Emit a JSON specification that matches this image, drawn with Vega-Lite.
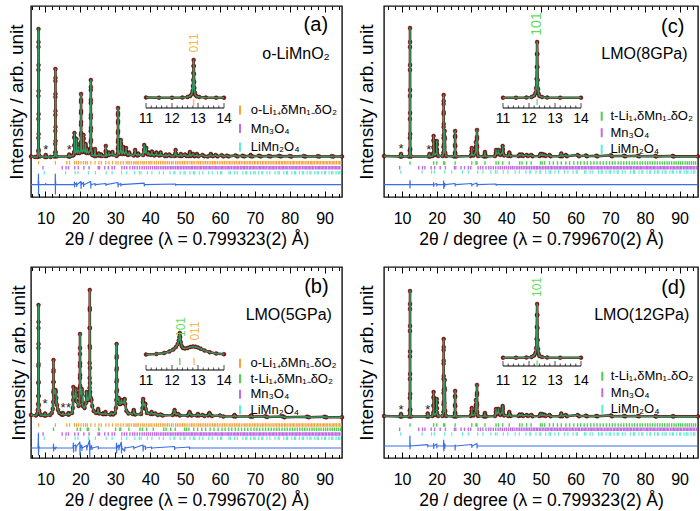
{
"$schema": "https://vega.github.io/schema/vega-lite/v6.json",
"background": "white",
"padding": {"left": 6, "top": 4, "right": 2, "bottom": 1},
"config": {"font": "Liberation Sans", "view": {"stroke": "#111", "strokeWidth": 1.4}},
"datasets": {
"pa": [{"x":5.85,"y":40.5},{"x":7.0,"y":40},{"x":7.7,"y":40},{"x":7.94,"y":46},{"x":7.955,"y":59},{"x":7.968,"y":78},{"x":7.978,"y":101},{"x":7.986,"y":127},{"x":7.993,"y":150},{"x":8.0,"y":168},{"x":8.007,"y":155},{"x":8.014,"y":132},{"x":8.022,"y":106},{"x":8.032,"y":83},{"x":8.045,"y":63},{"x":8.06,"y":47},{"x":8.35,"y":40.5},{"x":9.9,"y":40},{"x":10.1,"y":42},{"x":10.3,"y":40},{"x":11.5,"y":40},{"x":12.55,"y":40.5},{"x":12.79,"y":44.5},{"x":12.805,"y":53},{"x":12.818,"y":66},{"x":12.828,"y":82},{"x":12.836,"y":100},{"x":12.843,"y":116},{"x":12.85,"y":128},{"x":12.857,"y":119},{"x":12.864,"y":103},{"x":12.872,"y":86},{"x":12.882,"y":70},{"x":12.895,"y":56},{"x":12.91,"y":45},{"x":13.15,"y":40.5},{"x":16.6,"y":40.5},{"x":16.8,"y":42.5},{"x":17.0,"y":40.5},{"x":17.8,"y":41.5},{"x":18.05,"y":42},{"x":18.26,"y":45},{"x":18.28,"y":52},{"x":18.292,"y":60},{"x":18.3,"y":64},{"x":18.308,"y":59},{"x":18.32,"y":51},{"x":18.34,"y":45},{"x":18.6,"y":44},{"x":18.86,"y":48},{"x":18.88,"y":54},{"x":18.9,"y":58},{"x":18.92,"y":53},{"x":18.94,"y":47},{"x":19.2,"y":44},{"x":19.47,"y":47},{"x":19.5,"y":50},{"x":19.53,"y":46},{"x":19.8,"y":44},{"x":20.14,"y":47},{"x":20.155,"y":53},{"x":20.168,"y":62},{"x":20.178,"y":72},{"x":20.186,"y":84},{"x":20.193,"y":95},{"x":20.2,"y":103},{"x":20.207,"y":97},{"x":20.214,"y":86},{"x":20.222,"y":75},{"x":20.232,"y":64},{"x":20.245,"y":55},{"x":20.26,"y":47.5},{"x":20.5,"y":45},{"x":20.86,"y":48},{"x":20.88,"y":54},{"x":20.892,"y":59},{"x":20.9,"y":62},{"x":20.908,"y":58},{"x":20.92,"y":52},{"x":20.94,"y":47},{"x":21.2,"y":45},{"x":21.47,"y":48},{"x":21.49,"y":51},{"x":21.5,"y":53},{"x":21.51,"y":50},{"x":21.53,"y":47},{"x":21.75,"y":44},{"x":21.98,"y":46.5},{"x":22.0,"y":48},{"x":22.02,"y":45.5},{"x":22.4,"y":44},{"x":22.94,"y":47.7},{"x":22.955,"y":55},{"x":22.968,"y":66},{"x":22.978,"y":79},{"x":22.986,"y":94},{"x":22.993,"y":107},{"x":23.0,"y":117},{"x":23.007,"y":110},{"x":23.014,"y":97},{"x":23.022,"y":82},{"x":23.032,"y":69},{"x":23.045,"y":57},{"x":23.06,"y":48.4},{"x":23.4,"y":42},{"x":24.0,"y":41},{"x":24.17,"y":45},{"x":24.2,"y":48},{"x":24.23,"y":44.5},{"x":24.45,"y":41},{"x":25.28,"y":42},{"x":25.3,"y":43.5},{"x":25.32,"y":41.5},{"x":25.98,"y":41.5},{"x":26.0,"y":42.5},{"x":26.02,"y":41},{"x":27.1,"y":41},{"x":27.27,"y":46},{"x":27.3,"y":51},{"x":27.33,"y":45},{"x":27.5,"y":41},{"x":28.18,"y":43},{"x":28.2,"y":44.5},{"x":28.22,"y":42},{"x":29.17,"y":43},{"x":29.2,"y":45},{"x":29.23,"y":42.5},{"x":30.4,"y":41},{"x":30.74,"y":43.4},{"x":30.755,"y":48},{"x":30.768,"y":55},{"x":30.778,"y":64},{"x":30.786,"y":74},{"x":30.793,"y":82},{"x":30.8,"y":89},{"x":30.807,"y":84},{"x":30.814,"y":76},{"x":30.822,"y":66},{"x":30.832,"y":57},{"x":30.845,"y":50},{"x":30.86,"y":44},{"x":31.2,"y":43},{"x":31.57,"y":48},{"x":31.59,"y":54},{"x":31.6,"y":57},{"x":31.61,"y":53},{"x":31.63,"y":47},{"x":31.95,"y":43},{"x":32.27,"y":46},{"x":32.3,"y":50},{"x":32.33,"y":45.5},{"x":32.7,"y":43},{"x":33.07,"y":45.5},{"x":33.1,"y":49},{"x":33.13,"y":45},{"x":33.6,"y":42},{"x":33.98,"y":43},{"x":34.0,"y":44.5},{"x":34.02,"y":42.5},{"x":35.3,"y":41.5},{"x":35.67,"y":44},{"x":35.7,"y":47},{"x":35.73,"y":43.5},{"x":36.3,"y":41.5},{"x":36.58,"y":42.5},{"x":36.6,"y":43.5},{"x":36.62,"y":42},{"x":38.0,"y":42},{"x":38.27,"y":47},{"x":38.3,"y":52},{"x":38.33,"y":47},{"x":38.6,"y":44},{"x":38.87,"y":46},{"x":38.9,"y":49},{"x":38.93,"y":45},{"x":39.3,"y":42.5},{"x":39.58,"y":43.5},{"x":39.6,"y":44.5},{"x":39.62,"y":43},{"x":40.2,"y":42},{"x":40.48,"y":44},{"x":40.5,"y":45.5},{"x":40.52,"y":43},{"x":41.2,"y":41.5},{"x":41.78,"y":43},{"x":41.8,"y":44.5},{"x":41.82,"y":42.5},{"x":42.6,"y":41.5},{"x":42.98,"y":43},{"x":43.0,"y":44.5},{"x":43.02,"y":42},{"x":44.2,"y":41},{"x":44.5,"y":42.5},{"x":44.8,"y":41},{"x":45.5,"y":42.5},{"x":46.0,"y":41},{"x":46.9,"y":41},{"x":47.27,"y":44},{"x":47.3,"y":47},{"x":47.33,"y":43.5},{"x":47.6,"y":41.5},{"x":48.5,"y":41},{"x":48.8,"y":43},{"x":49.1,"y":41},{"x":50.0,"y":42.5},{"x":50.4,"y":41},{"x":51.1,"y":41},{"x":51.38,"y":43.5},{"x":51.4,"y":45},{"x":51.42,"y":43},{"x":51.7,"y":41},{"x":52.3,"y":43},{"x":52.7,"y":40.8},{"x":53.38,"y":42},{"x":53.4,"y":43},{"x":53.42,"y":41.5},{"x":53.9,"y":40.8},{"x":55.0,"y":42},{"x":55.5,"y":40.8},{"x":56.5,"y":40.5},{"x":57.38,"y":42},{"x":57.4,"y":43},{"x":57.42,"y":41.5},{"x":58.0,"y":40.8},{"x":58.8,"y":42},{"x":59.3,"y":40.6},{"x":60.5,"y":41.8},{"x":61.0,"y":40.6},{"x":62.0,"y":41.3},{"x":62.5,"y":40.6},{"x":64.5,"y":41.6},{"x":65.0,"y":40.6},{"x":66.5,"y":41.2},{"x":67.0,"y":40.6},{"x":68.78,"y":41.2},{"x":68.8,"y":42},{"x":68.82,"y":41},{"x":69.3,"y":40.6},{"x":71.2,"y":41.3},{"x":71.7,"y":40.6},{"x":74.0,"y":41},{"x":74.5,"y":40.6},{"x":77.0,"y":41.1},{"x":77.5,"y":40.6},{"x":80.0,"y":40.9},{"x":80.5,"y":40.5},{"x":84.0,"y":40.9},{"x":84.5,"y":40.5},{"x":88.0,"y":40.8},{"x":88.5,"y":40.5},{"x":92.0,"y":40.8},{"x":92.5,"y":40.5},{"x":95.0,"y":40.5}],
"pc": [{"x":4.8,"y":41},{"x":9.5,"y":40.5},{"x":9.7,"y":43},{"x":9.9,"y":40.5},{"x":12.0,"y":40.5},{"x":12.24,"y":46.4},{"x":12.255,"y":59},{"x":12.268,"y":78},{"x":12.278,"y":101},{"x":12.286,"y":127},{"x":12.293,"y":150},{"x":12.3,"y":169},{"x":12.307,"y":155},{"x":12.314,"y":132},{"x":12.322,"y":107},{"x":12.332,"y":84},{"x":12.345,"y":63},{"x":12.36,"y":48},{"x":12.6,"y":40.5},{"x":17.7,"y":40.5},{"x":17.9,"y":43},{"x":18.1,"y":40.5},{"x":18.8,"y":41},{"x":19.06,"y":44},{"x":19.08,"y":50},{"x":19.092,"y":57},{"x":19.1,"y":61},{"x":19.108,"y":56},{"x":19.12,"y":49},{"x":19.14,"y":44},{"x":19.5,"y":42},{"x":19.96,"y":44},{"x":19.98,"y":48},{"x":19.992,"y":53},{"x":20.0,"y":56},{"x":20.008,"y":52},{"x":20.02,"y":47},{"x":20.04,"y":44},{"x":20.4,"y":41},{"x":21.7,"y":41},{"x":21.94,"y":44},{"x":21.955,"y":50},{"x":21.968,"y":59},{"x":21.978,"y":70},{"x":21.986,"y":83},{"x":21.993,"y":93},{"x":22.0,"y":102},{"x":22.007,"y":96},{"x":22.014,"y":85},{"x":22.022,"y":73},{"x":22.032,"y":62},{"x":22.045,"y":52},{"x":22.06,"y":45},{"x":22.15,"y":50},{"x":22.27,"y":60},{"x":22.3,"y":66},{"x":22.33,"y":58},{"x":22.45,"y":44},{"x":22.7,"y":41},{"x":25.0,"y":40.5},{"x":25.26,"y":44.3},{"x":25.28,"y":52},{"x":25.292,"y":61},{"x":25.3,"y":66},{"x":25.308,"y":60},{"x":25.32,"y":50.7},{"x":25.34,"y":43.6},{"x":25.6,"y":40.5},{"x":29.8,"y":41},{"x":30.06,"y":43},{"x":30.08,"y":46},{"x":30.1,"y":49},{"x":30.12,"y":45.5},{"x":30.14,"y":42.5},{"x":30.6,"y":41.5},{"x":31.25,"y":45},{"x":31.28,"y":50},{"x":31.3,"y":55},{"x":31.32,"y":49},{"x":31.45,"y":47},{"x":31.56,"y":52},{"x":31.58,"y":58},{"x":31.6,"y":67},{"x":31.61,"y":60},{"x":31.63,"y":50},{"x":31.66,"y":44},{"x":31.9,"y":41},{"x":33.6,"y":40.5},{"x":33.87,"y":43},{"x":33.9,"y":45},{"x":33.93,"y":42.5},{"x":34.2,"y":40.5},{"x":36.8,"y":41},{"x":37.07,"y":44},{"x":37.1,"y":47},{"x":37.13,"y":44},{"x":37.45,"y":43},{"x":37.77,"y":45},{"x":37.8,"y":47},{"x":37.83,"y":44},{"x":38.3,"y":42},{"x":38.96,"y":45},{"x":38.98,"y":48},{"x":39.0,"y":51},{"x":39.02,"y":47.5},{"x":39.05,"y":44},{"x":39.4,"y":41.5},{"x":40.6,"y":41},{"x":40.88,"y":43},{"x":40.9,"y":44.5},{"x":40.92,"y":42.5},{"x":41.3,"y":41},{"x":43.6,"y":41},{"x":43.9,"y":42.5},{"x":44.2,"y":41.5},{"x":44.6,"y":42.5},{"x":44.9,"y":41},{"x":45.9,"y":42},{"x":46.3,"y":41},{"x":47.2,"y":42},{"x":47.6,"y":40.8},{"x":49.6,"y":41},{"x":49.9,"y":43},{"x":50.15,"y":41.8},{"x":50.4,"y":43},{"x":50.7,"y":41.5},{"x":51.1,"y":42.3},{"x":51.4,"y":41},{"x":52.5,"y":42},{"x":52.8,"y":40.8},{"x":55.6,"y":40.8},{"x":55.9,"y":43.5},{"x":56.2,"y":40.8},{"x":57.2,"y":42},{"x":57.5,"y":40.8},{"x":60.6,"y":42},{"x":61.0,"y":40.8},{"x":63.0,"y":41.5},{"x":63.3,"y":40.7},{"x":66.0,"y":41.2},{"x":66.3,"y":40.7},{"x":70.2,"y":41.8},{"x":70.5,"y":40.7},{"x":74.0,"y":41.2},{"x":74.3,"y":40.7},{"x":78.0,"y":41.2},{"x":78.3,"y":40.7},{"x":83.0,"y":41},{"x":83.3,"y":40.6},{"x":88.0,"y":41},{"x":88.3,"y":40.6},{"x":95.3,"y":40.6}],
"pd": [{"x":4.8,"y":42},{"x":9.5,"y":41.5},{"x":9.7,"y":44},{"x":9.9,"y":41.5},{"x":12.0,"y":41.5},{"x":12.24,"y":47.3},{"x":12.255,"y":60},{"x":12.268,"y":79},{"x":12.278,"y":101.5},{"x":12.286,"y":127},{"x":12.293,"y":149},{"x":12.3,"y":167},{"x":12.307,"y":154},{"x":12.314,"y":132},{"x":12.322,"y":106.5},{"x":12.332,"y":84},{"x":12.345,"y":64},{"x":12.36,"y":48.6},{"x":12.6,"y":41.5},{"x":17.2,"y":41.5},{"x":17.4,"y":44.5},{"x":17.6,"y":41.5},{"x":18.8,"y":42},{"x":19.06,"y":45.6},{"x":19.08,"y":52.8},{"x":19.092,"y":61},{"x":19.1,"y":66},{"x":19.108,"y":60},{"x":19.12,"y":51.6},{"x":19.14,"y":45},{"x":19.5,"y":43},{"x":19.96,"y":45.4},{"x":19.98,"y":50.2},{"x":19.992,"y":55.8},{"x":20.0,"y":59},{"x":20.008,"y":55},{"x":20.02,"y":49.4},{"x":20.04,"y":45},{"x":20.4,"y":42},{"x":21.7,"y":42},{"x":21.94,"y":46},{"x":21.955,"y":53.6},{"x":21.968,"y":65},{"x":21.978,"y":79},{"x":21.986,"y":94.4},{"x":21.993,"y":108},{"x":22.0,"y":119},{"x":22.007,"y":111},{"x":22.014,"y":97.4},{"x":22.022,"y":82},{"x":22.032,"y":68},{"x":22.045,"y":56},{"x":22.06,"y":46.6},{"x":22.15,"y":55},{"x":22.27,"y":70},{"x":22.3,"y":78},{"x":22.33,"y":68},{"x":22.45,"y":47},{"x":22.7,"y":42},{"x":25.0,"y":41.5},{"x":25.26,"y":45.3},{"x":25.28,"y":53},{"x":25.292,"y":62},{"x":25.3,"y":67},{"x":25.308,"y":61},{"x":25.32,"y":51.7},{"x":25.34,"y":44.6},{"x":25.6,"y":41.5},{"x":29.8,"y":42},{"x":30.06,"y":44},{"x":30.08,"y":47},{"x":30.1,"y":50},{"x":30.12,"y":46.5},{"x":30.14,"y":43.5},{"x":30.6,"y":42.5},{"x":31.25,"y":47},{"x":31.28,"y":53},{"x":31.3,"y":58},{"x":31.32,"y":52},{"x":31.45,"y":50},{"x":31.56,"y":55},{"x":31.58,"y":63},{"x":31.6,"y":73},{"x":31.61,"y":65},{"x":31.63,"y":53},{"x":31.66,"y":46},{"x":31.9,"y":42},{"x":33.6,"y":41.5},{"x":33.87,"y":43.5},{"x":33.9,"y":45},{"x":33.93,"y":43},{"x":34.2,"y":41.5},{"x":36.8,"y":42},{"x":37.07,"y":46},{"x":37.1,"y":49},{"x":37.13,"y":46},{"x":37.45,"y":44},{"x":37.77,"y":47},{"x":37.8,"y":49},{"x":37.83,"y":46},{"x":38.3,"y":43},{"x":38.96,"y":47},{"x":38.98,"y":50},{"x":39.0,"y":52},{"x":39.02,"y":49},{"x":39.05,"y":45},{"x":39.4,"y":42.5},{"x":40.6,"y":42},{"x":40.88,"y":44.5},{"x":40.9,"y":46},{"x":40.92,"y":44},{"x":41.3,"y":42},{"x":43.6,"y":42},{"x":43.9,"y":43.5},{"x":44.2,"y":42.5},{"x":44.6,"y":43.5},{"x":44.9,"y":42},{"x":45.9,"y":43},{"x":46.3,"y":42},{"x":47.2,"y":43},{"x":47.6,"y":41.8},{"x":49.6,"y":42},{"x":49.9,"y":44},{"x":50.15,"y":42.8},{"x":50.4,"y":44},{"x":50.7,"y":42.5},{"x":51.1,"y":43.3},{"x":51.4,"y":42},{"x":52.5,"y":43},{"x":52.8,"y":41.8},{"x":55.6,"y":41.8},{"x":55.9,"y":44.5},{"x":56.2,"y":41.8},{"x":57.2,"y":43},{"x":57.5,"y":41.8},{"x":60.6,"y":43},{"x":61.0,"y":41.8},{"x":63.0,"y":42.3},{"x":63.3,"y":41.7},{"x":66.0,"y":42},{"x":66.3,"y":41.7},{"x":70.2,"y":42.6},{"x":70.5,"y":41.7},{"x":74.0,"y":42},{"x":74.3,"y":41.7},{"x":78.0,"y":42},{"x":78.3,"y":41.7},{"x":83.0,"y":41.8},{"x":83.3,"y":41.6},{"x":88.0,"y":41.8},{"x":88.3,"y":41.6},{"x":95.3,"y":41.6}],
"pb": [{"x":5.85,"y":43},{"x":7.3,"y":42.5},{"x":7.6,"y":44},{"x":7.8,"y":48},{"x":7.9,"y":54},{"x":7.94,"y":62},{"x":7.96,"y":75},{"x":7.975,"y":92},{"x":7.985,"y":110},{"x":7.993,"y":130},{"x":8.0,"y":153},{"x":8.008,"y":136},{"x":8.016,"y":114},{"x":8.026,"y":94},{"x":8.04,"y":76},{"x":8.06,"y":62},{"x":8.1,"y":53},{"x":8.2,"y":47},{"x":8.4,"y":44},{"x":8.7,"y":43},{"x":9.7,"y":42.5},{"x":9.9,"y":44.5},{"x":10.1,"y":42.5},{"x":11.3,"y":43},{"x":11.8,"y":45},{"x":12.1,"y":49},{"x":12.22,"y":56},{"x":12.26,"y":66},{"x":12.28,"y":76},{"x":12.29,"y":86},{"x":12.3,"y":98},{"x":12.31,"y":88},{"x":12.33,"y":76},{"x":12.36,"y":68},{"x":12.45,"y":64},{"x":12.6,"y":65},{"x":12.75,"y":67},{"x":12.85,"y":68},{"x":12.95,"y":66},{"x":13.1,"y":60},{"x":13.3,"y":53},{"x":13.6,"y":48},{"x":14.0,"y":45},{"x":14.6,"y":43.5},{"x":14.9,"y":43.5},{"x":15.0,"y":45},{"x":15.1,"y":43.5},{"x":16.5,"y":43.5},{"x":16.6,"y":45},{"x":16.7,"y":43.5},{"x":17.6,"y":45},{"x":17.85,"y":50},{"x":17.95,"y":58},{"x":17.98,"y":64},{"x":18.0,"y":71},{"x":18.03,"y":66},{"x":18.1,"y":62},{"x":18.25,"y":60},{"x":18.4,"y":62},{"x":18.6,"y":62},{"x":18.67,"y":66},{"x":18.7,"y":69},{"x":18.73,"y":65},{"x":18.85,"y":57},{"x":19.5,"y":52},{"x":19.75,"y":56},{"x":19.83,"y":62},{"x":19.86,"y":70},{"x":19.875,"y":80},{"x":19.885,"y":92},{"x":19.893,"y":104},{"x":19.9,"y":124},{"x":19.907,"y":110},{"x":19.915,"y":95},{"x":19.925,"y":83},{"x":19.94,"y":72},{"x":19.97,"y":66},{"x":20.15,"y":64},{"x":20.35,"y":67},{"x":20.4,"y":69},{"x":20.45,"y":64},{"x":20.7,"y":52},{"x":21.2,"y":50},{"x":21.6,"y":55},{"x":21.75,"y":62},{"x":21.8,"y":66},{"x":21.85,"y":62},{"x":22.05,"y":58},{"x":22.1,"y":60},{"x":22.2,"y":58},{"x":22.4,"y":58},{"x":22.55,"y":62},{"x":22.62,"y":70},{"x":22.65,"y":80},{"x":22.665,"y":95},{"x":22.675,"y":112},{"x":22.685,"y":130},{"x":22.693,"y":148},{"x":22.7,"y":168},{"x":22.707,"y":150},{"x":22.715,"y":130},{"x":22.725,"y":110},{"x":22.74,"y":90},{"x":22.76,"y":75},{"x":22.8,"y":66},{"x":23.0,"y":60},{"x":23.2,"y":58},{"x":23.4,"y":52},{"x":23.8,"y":47},{"x":24.5,"y":45},{"x":24.9,"y":45.5},{"x":25.05,"y":47},{"x":25.1,"y":49},{"x":25.15,"y":47},{"x":25.4,"y":44.5},{"x":26.4,"y":44},{"x":26.5,"y":44.5},{"x":26.6,"y":44},{"x":27.1,"y":44},{"x":27.2,"y":46},{"x":27.3,"y":44},{"x":28.6,"y":43.5},{"x":29.0,"y":45},{"x":29.4,"y":43.5},{"x":29.9,"y":45},{"x":30.2,"y":50},{"x":30.3,"y":58},{"x":30.33,"y":66},{"x":30.35,"y":76},{"x":30.365,"y":88},{"x":30.38,"y":100},{"x":30.4,"y":114},{"x":30.42,"y":102},{"x":30.435,"y":90},{"x":30.45,"y":78},{"x":30.48,"y":68},{"x":30.55,"y":60},{"x":30.8,"y":58},{"x":31.0,"y":60},{"x":31.2,"y":54},{"x":31.5,"y":54},{"x":31.7,"y":57},{"x":31.8,"y":58},{"x":31.95,"y":55},{"x":32.4,"y":55},{"x":32.6,"y":58},{"x":32.7,"y":59},{"x":32.85,"y":54},{"x":33.2,"y":47},{"x":33.8,"y":44.5},{"x":35.0,"y":44},{"x":35.2,"y":46},{"x":35.3,"y":48},{"x":35.4,"y":46},{"x":35.7,"y":43.5},{"x":37.4,"y":44},{"x":37.8,"y":50},{"x":37.95,"y":56},{"x":38.0,"y":59},{"x":38.08,"y":55},{"x":38.4,"y":52},{"x":38.55,"y":54},{"x":38.6,"y":54},{"x":38.75,"y":49},{"x":39.1,"y":45},{"x":40.1,"y":44},{"x":40.4,"y":46},{"x":40.7,"y":44},{"x":41.5,"y":44.5},{"x":42.2,"y":43},{"x":43.0,"y":43.5},{"x":43.6,"y":42.5},{"x":46.5,"y":43},{"x":46.8,"y":45},{"x":47.0,"y":48},{"x":47.2,"y":45},{"x":47.5,"y":43.5},{"x":48.0,"y":44},{"x":48.5,"y":42.5},{"x":50.8,"y":42.5},{"x":51.1,"y":44},{"x":51.3,"y":46},{"x":51.5,"y":44},{"x":51.9,"y":42.5},{"x":53.4,"y":42.5},{"x":53.7,"y":44},{"x":54.0,"y":42.5},{"x":55.0,"y":43},{"x":55.6,"y":42},{"x":56.6,"y":42.5},{"x":56.9,"y":44},{"x":57.0,"y":45},{"x":57.2,"y":43.5},{"x":57.7,"y":42},{"x":60.0,"y":42.5},{"x":61.0,"y":41.5},{"x":63.9,"y":41.8},{"x":64.2,"y":43},{"x":64.5,"y":41.5},{"x":68.7,"y":41.5},{"x":69.0,"y":42.5},{"x":69.3,"y":41.3},{"x":73.0,"y":41.8},{"x":73.5,"y":41},{"x":78.0,"y":41.5},{"x":78.5,"y":40.8},{"x":85.0,"y":41.3},{"x":85.5,"y":40.8},{"x":90.0,"y":41.2},{"x":90.5,"y":40.7},{"x":95.0,"y":40.8}],
"da": [{"x":5.85,"y":12.3},{"x":7.9,"y":12.3},{"x":7.97,"y":20},{"x":7.99,"y":23},{"x":8.0,"y":4},{"x":8.02,"y":2},{"x":8.04,"y":16},{"x":8.08,"y":12.3},{"x":10.0,"y":12.3},{"x":10.1,"y":13.5},{"x":10.2,"y":12.3},{"x":12.78,"y":12.3},{"x":12.82,"y":23},{"x":12.85,"y":3},{"x":12.88,"y":17},{"x":12.93,"y":12.3},{"x":18.25,"y":12.3},{"x":18.3,"y":15},{"x":18.33,"y":10},{"x":18.4,"y":12.3},{"x":18.9,"y":14},{"x":18.93,"y":10.5},{"x":19.0,"y":12.3},{"x":20.15,"y":15.5},{"x":20.2,"y":8.5},{"x":20.25,"y":15},{"x":20.3,"y":12.3},{"x":20.9,"y":14.5},{"x":20.93,"y":10.5},{"x":21.0,"y":12.3},{"x":22.97,"y":15.5},{"x":23.0,"y":9},{"x":23.04,"y":14},{"x":23.1,"y":12.3},{"x":24.2,"y":13.5},{"x":24.25,"y":11.5},{"x":24.3,"y":12.3},{"x":27.3,"y":13.5},{"x":27.33,"y":11.5},{"x":27.4,"y":12.3},{"x":30.77,"y":14.5},{"x":30.8,"y":10},{"x":30.84,"y":13.5},{"x":30.9,"y":12.3},{"x":31.6,"y":13.5},{"x":31.63,"y":11},{"x":31.7,"y":12.3},{"x":38.3,"y":13.8},{"x":38.33,"y":11.2},{"x":38.4,"y":12.3},{"x":47.3,"y":13},{"x":47.33,"y":11.7},{"x":47.4,"y":12.3},{"x":95.0,"y":12.3}],
"dc": [{"x":4.8,"y":12.3},{"x":12.25,"y":12.3},{"x":12.28,"y":16.5},{"x":12.3,"y":9},{"x":12.33,"y":15},{"x":12.37,"y":12.3},{"x":19.05,"y":12.3},{"x":19.1,"y":14.3},{"x":19.13,"y":10.5},{"x":19.2,"y":12.3},{"x":20.0,"y":13.5},{"x":20.03,"y":11},{"x":20.1,"y":12.3},{"x":21.95,"y":12.3},{"x":22.0,"y":16},{"x":22.03,"y":8.5},{"x":22.07,"y":14},{"x":22.3,"y":10.5},{"x":22.35,"y":13.5},{"x":22.4,"y":12.3},{"x":25.3,"y":13.5},{"x":25.33,"y":11},{"x":25.4,"y":12.3},{"x":30.1,"y":13.5},{"x":30.13,"y":11},{"x":30.2,"y":12.3},{"x":31.6,"y":14},{"x":31.63,"y":10.5},{"x":31.7,"y":12.3},{"x":37.1,"y":13},{"x":37.13,"y":11.7},{"x":37.2,"y":12.3},{"x":95.3,"y":12.3}],
"dd": [{"x":4.8,"y":12},{"x":12.25,"y":12},{"x":12.28,"y":22},{"x":12.3,"y":9},{"x":12.33,"y":15},{"x":12.37,"y":12},{"x":17.4,"y":13.3},{"x":17.45,"y":11},{"x":17.5,"y":12},{"x":19.05,"y":12},{"x":19.1,"y":14.5},{"x":19.13,"y":9.5},{"x":19.2,"y":12},{"x":20.0,"y":14},{"x":20.03,"y":10},{"x":20.1,"y":12},{"x":21.95,"y":12},{"x":22.0,"y":18},{"x":22.03,"y":7},{"x":22.07,"y":15},{"x":22.3,"y":9.5},{"x":22.35,"y":14},{"x":22.4,"y":12},{"x":25.28,"y":12},{"x":25.3,"y":8},{"x":25.33,"y":13},{"x":25.4,"y":12},{"x":30.1,"y":13.5},{"x":30.13,"y":10.5},{"x":30.2,"y":12},{"x":31.6,"y":14.5},{"x":31.63,"y":10},{"x":31.7,"y":12},{"x":95.3,"y":12}],
"db": [{"x":5.85,"y":10},{"x":7.85,"y":10},{"x":7.95,"y":18},{"x":7.98,"y":25},{"x":8.0,"y":3},{"x":8.02,"y":14},{"x":8.05,"y":6},{"x":8.1,"y":12},{"x":8.2,"y":10},{"x":12.25,"y":10},{"x":12.3,"y":14},{"x":12.33,"y":7},{"x":12.4,"y":11},{"x":12.8,"y":9},{"x":13.0,"y":11},{"x":13.2,"y":10},{"x":17.9,"y":10},{"x":18.0,"y":15},{"x":18.05,"y":6},{"x":18.1,"y":12},{"x":18.65,"y":13},{"x":18.7,"y":7},{"x":18.8,"y":11},{"x":19.85,"y":16},{"x":19.9,"y":3},{"x":19.95,"y":14},{"x":20.0,"y":10},{"x":20.4,"y":13},{"x":20.45,"y":7.5},{"x":20.5,"y":10},{"x":21.8,"y":12.5},{"x":21.85,"y":8},{"x":21.9,"y":10},{"x":22.65,"y":18},{"x":22.7,"y":1},{"x":22.74,"y":14},{"x":22.8,"y":8},{"x":22.9,"y":10},{"x":23.2,"y":12.5},{"x":23.3,"y":8.5},{"x":23.4,"y":10},{"x":25.1,"y":11.5},{"x":25.15,"y":9},{"x":25.2,"y":10},{"x":30.3,"y":10},{"x":30.36,"y":15},{"x":30.4,"y":5},{"x":30.45,"y":13},{"x":30.5,"y":10},{"x":31.0,"y":13},{"x":31.05,"y":8},{"x":31.1,"y":10},{"x":31.75,"y":16},{"x":31.8,"y":5},{"x":31.85,"y":12},{"x":31.9,"y":10},{"x":32.7,"y":7},{"x":32.8,"y":11},{"x":32.9,"y":10},{"x":35.3,"y":11.5},{"x":35.35,"y":9},{"x":35.4,"y":10},{"x":37.95,"y":13},{"x":38.0,"y":7},{"x":38.05,"y":11.5},{"x":38.6,"y":12},{"x":38.65,"y":8.5},{"x":38.7,"y":10},{"x":40.4,"y":11},{"x":40.45,"y":9},{"x":40.5,"y":10},{"x":47.0,"y":11.5},{"x":47.05,"y":8.5},{"x":47.1,"y":10},{"x":51.3,"y":11},{"x":51.35,"y":9},{"x":51.4,"y":10},{"x":95.0,"y":10}],
"sa": [{"x":10.1,"y":47},{"x":16.8,"y":47}],
"sb": [{"x":9.9,"y":54},{"x":15.0,"y":50},{"x":16.6,"y":50}],
"sc": [{"x":9.7,"y":48},{"x":17.7,"y":47}],
"sd": [{"x":9.7,"y":47.7},{"x":17.4,"y":48.5}],
"ia": [{"x":11.0,"y":99.5},{"x":11.5,"y":99.3},{"x":12.0,"y":99.3},{"x":12.4,"y":99.5},{"x":12.6,"y":100},{"x":12.7,"y":101},{"x":12.76,"y":103},{"x":12.79,"y":106},{"x":12.805,"y":111},{"x":12.815,"y":117},{"x":12.822,"y":124},{"x":12.828,"y":131},{"x":12.833,"y":137},{"x":12.838,"y":131},{"x":12.844,"y":123},{"x":12.852,"y":115},{"x":12.862,"y":109},{"x":12.876,"y":104.5},{"x":12.9,"y":102},{"x":12.95,"y":100.6},{"x":13.05,"y":100},{"x":13.3,"y":99.5},{"x":13.7,"y":99.3},{"x":14.0,"y":99.3}],
"ic": [{"x":11.0,"y":99.3},{"x":11.5,"y":99.3},{"x":11.9,"y":99.5},{"x":12.1,"y":100},{"x":12.2,"y":101.5},{"x":12.25,"y":104},{"x":12.275,"y":109},{"x":12.29,"y":118},{"x":12.3,"y":130},{"x":12.307,"y":143},{"x":12.313,"y":155},{"x":12.32,"y":143},{"x":12.327,"y":130},{"x":12.336,"y":117},{"x":12.348,"y":108},{"x":12.365,"y":103.5},{"x":12.4,"y":101},{"x":12.5,"y":100},{"x":12.7,"y":99.5},{"x":13.2,"y":99.3},{"x":14.0,"y":99.3}],
"id": [{"x":11.0,"y":100.3},{"x":11.5,"y":100.3},{"x":11.9,"y":100.5},{"x":12.1,"y":101},{"x":12.2,"y":102.5},{"x":12.25,"y":105},{"x":12.275,"y":110},{"x":12.29,"y":119},{"x":12.3,"y":131},{"x":12.307,"y":143},{"x":12.313,"y":154},{"x":12.32,"y":143},{"x":12.327,"y":130},{"x":12.336,"y":118},{"x":12.348,"y":109},{"x":12.365,"y":104.5},{"x":12.4,"y":102},{"x":12.5,"y":101},{"x":12.7,"y":100.5},{"x":13.2,"y":100.3},{"x":14.0,"y":100.3}],
"ib": [{"x":11.0,"y":103.5},{"x":11.4,"y":104},{"x":11.7,"y":105},{"x":11.9,"y":106.5},{"x":12.05,"y":108.5},{"x":12.15,"y":111},{"x":12.22,"y":114},{"x":12.26,"y":117.5},{"x":12.285,"y":121},{"x":12.3,"y":125},{"x":12.315,"y":121},{"x":12.335,"y":116},{"x":12.37,"y":112},{"x":12.42,"y":110},{"x":12.5,"y":109.5},{"x":12.6,"y":110},{"x":12.7,"y":111},{"x":12.8,"y":111.5},{"x":12.9,"y":111.3},{"x":13.0,"y":110.5},{"x":13.1,"y":109.3},{"x":13.25,"y":107.5},{"x":13.45,"y":105.8},{"x":13.7,"y":104.5},{"x":14.0,"y":103.8}],
"imaj": [{"x":11},{"x":12},{"x":13},{"x":14}],
"imin": [{"x":11.2},{"x":11.4},{"x":11.6},{"x":11.8},{"x":12.2},{"x":12.4},{"x":12.6},{"x":12.8},{"x":13.2},{"x":13.4},{"x":13.6},{"x":13.8}],
"iax": [{"x":11,"x2":14}],
"tko": [{"x":8.0},{"x":12.85},{"x":16.1},{"x":16.9},{"x":18.3},{"x":18.9},{"x":19.5},{"x":20.2},{"x":20.9},{"x":21.5},{"x":22.0},{"x":23.0},{"x":24.2},{"x":25.3},{"x":26.0},{"x":27.3},{"x":28.2},{"x":29.2},{"x":30.2},{"x":30.8},{"x":31.6},{"x":32.3},{"x":33.1},{"x":33.6},{"x":34.0},{"x":34.6},{"x":35.3},{"x":35.7},{"x":36.2},{"x":36.6},{"x":37.3},{"x":37.9},{"x":38.3},{"x":38.9},{"x":39.6},{"x":40.0},{"x":40.5},{"x":41.2},{"x":41.8},{"x":42.4},{"x":43.0},{"x":43.6},{"x":44.0},{"x":44.5},{"x":45.0},{"x":45.5},{"x":46.1},{"x":46.6},{"x":47.3},{"x":47.8},{"x":48.3},{"x":48.8},{"x":49.3},{"x":49.8},{"x":50.3},{"x":50.8},{"x":51.4},{"x":51.9},{"x":52.3},{"x":52.8},{"x":53.4},{"x":53.9},{"x":54.4},{"x":54.9},{"x":55.4},{"x":55.9},{"x":56.4},{"x":56.9},{"x":57.4},{"x":57.9},{"x":58.4},{"x":58.8},{"x":59.3},{"x":59.8},{"x":60.3},{"x":60.8},{"x":61.3},{"x":61.8},{"x":62.3},{"x":62.8},{"x":63.2},{"x":63.7},{"x":64.2},{"x":64.7},{"x":65.2},{"x":65.6},{"x":66.1},{"x":66.6},{"x":67.1},{"x":67.5},{"x":68.0},{"x":68.5},{"x":68.9},{"x":69.4},{"x":69.9},{"x":70.3},{"x":70.8},{"x":71.2},{"x":71.7},{"x":72.2},{"x":72.6},{"x":73.1},{"x":73.5},{"x":74.0},{"x":74.4},{"x":74.9},{"x":75.3},{"x":75.8},{"x":76.2},{"x":76.7},{"x":77.1},{"x":77.6},{"x":78.0},{"x":78.5},{"x":78.9},{"x":79.3},{"x":79.8},{"x":80.2},{"x":80.7},{"x":81.1},{"x":81.5},{"x":82.0},{"x":82.4},{"x":82.8},{"x":83.3},{"x":83.7},{"x":84.1},{"x":84.6},{"x":85.0},{"x":85.4},{"x":85.9},{"x":86.3},{"x":86.7},{"x":87.1},{"x":87.6},{"x":88.0},{"x":88.4},{"x":88.8},{"x":89.3},{"x":89.7},{"x":90.1},{"x":90.5},{"x":90.9},{"x":91.4},{"x":91.8},{"x":92.2},{"x":92.6},{"x":93.0},{"x":93.4},{"x":93.9},{"x":94.3},{"x":94.7}],
"tkt": [{"x":12.3},{"x":19.1},{"x":20.0},{"x":22.0},{"x":22.3},{"x":25.3},{"x":30.1},{"x":31.3},{"x":31.6},{"x":33.9},{"x":37.1},{"x":37.8},{"x":39.0},{"x":40.9},{"x":43.9},{"x":44.6},{"x":45.9},{"x":47.2},{"x":49.9},{"x":50.4},{"x":51.1},{"x":52.5},{"x":53.6},{"x":54.8},{"x":55.9},{"x":57.2},{"x":58.3},{"x":59.5},{"x":60.6},{"x":61.5},{"x":62.5},{"x":63.4},{"x":64.4},{"x":65.3},{"x":66.2},{"x":67.1},{"x":68.0},{"x":68.9},{"x":69.8},{"x":70.6},{"x":71.4},{"x":72.3},{"x":73.1},{"x":73.9},{"x":74.7},{"x":75.5},{"x":76.3},{"x":77.0},{"x":77.8},{"x":78.6},{"x":79.3},{"x":80.1},{"x":80.8},{"x":81.5},{"x":82.2},{"x":82.9},{"x":83.6},{"x":84.3},{"x":85.0},{"x":85.7},{"x":86.4},{"x":87.0},{"x":87.7},{"x":88.4},{"x":89.0},{"x":89.7},{"x":90.3},{"x":90.9},{"x":91.6},{"x":92.2},{"x":92.8},{"x":93.4},{"x":94.0},{"x":94.6}],
"tkm": [{"x":9.3},{"x":14.8},{"x":15.9},{"x":16.6},{"x":18.4},{"x":19.4},{"x":21.0},{"x":22.5},{"x":25.1},{"x":25.5},{"x":27.0},{"x":28.0},{"x":29.1},{"x":29.8},{"x":31.9},{"x":32.6},{"x":33.3},{"x":34.2},{"x":35.0},{"x":35.6},{"x":36.3},{"x":37.0},{"x":37.7},{"x":38.3},{"x":38.9},{"x":39.5},{"x":40.1},{"x":40.7},{"x":41.3},{"x":41.8},{"x":42.3},{"x":42.9},{"x":43.4},{"x":43.9},{"x":44.4},{"x":44.9},{"x":45.4},{"x":45.9},{"x":46.3},{"x":46.8},{"x":47.3},{"x":47.8},{"x":48.2},{"x":48.7},{"x":49.1},{"x":49.6},{"x":50.0},{"x":50.5},{"x":50.9},{"x":51.4},{"x":51.8},{"x":52.2},{"x":52.7},{"x":53.1},{"x":53.5},{"x":54.0},{"x":54.4},{"x":54.8},{"x":55.3},{"x":55.7},{"x":56.1},{"x":56.6},{"x":57.0},{"x":57.4},{"x":57.8},{"x":58.3},{"x":58.7},{"x":59.1},{"x":59.5},{"x":60.0},{"x":60.4},{"x":60.8},{"x":61.2},{"x":61.7},{"x":62.1},{"x":62.5},{"x":62.9},{"x":63.3},{"x":63.8},{"x":64.2},{"x":64.6},{"x":65.0},{"x":65.4},{"x":65.9},{"x":66.3},{"x":66.7},{"x":67.1},{"x":67.5},{"x":67.9},{"x":68.4},{"x":68.8},{"x":69.2},{"x":69.6},{"x":70.0},{"x":70.4},{"x":70.9},{"x":71.3},{"x":71.7},{"x":72.1},{"x":72.5},{"x":72.9},{"x":73.3},{"x":73.8},{"x":74.2},{"x":74.6},{"x":75.0},{"x":75.4},{"x":75.8},{"x":76.2},{"x":76.7},{"x":77.1},{"x":77.5},{"x":77.9},{"x":78.3},{"x":78.7},{"x":79.1},{"x":79.5},{"x":80.0},{"x":80.4},{"x":80.8},{"x":81.2},{"x":81.6},{"x":82.0},{"x":82.4},{"x":82.8},{"x":83.2},{"x":83.7},{"x":84.1},{"x":84.5},{"x":84.9},{"x":85.3},{"x":85.7},{"x":86.1},{"x":86.5},{"x":86.9},{"x":87.4},{"x":87.8},{"x":88.2},{"x":88.6},{"x":89.0},{"x":89.4},{"x":89.8},{"x":90.2},{"x":90.6},{"x":91.1},{"x":91.5},{"x":91.9},{"x":92.3},{"x":92.7},{"x":93.1},{"x":93.5},{"x":93.9},{"x":94.3},{"x":94.8}],
"tkl": [{"x":9.64},{"x":15.76},{"x":18.5},{"x":19.3},{"x":22.3},{"x":24.3},{"x":27.4},{"x":29.1},{"x":31.8},{"x":33.3},{"x":35.6},{"x":36.9},{"x":37.4},{"x":39.2},{"x":40.5},{"x":42.6},{"x":43.8},{"x":45.7},{"x":46.8},{"x":47.1},{"x":48.6},{"x":49.7},{"x":50.0},{"x":51.4},{"x":52.4},{"x":52.8},{"x":54.1},{"x":55.1},{"x":56.8},{"x":57.8},{"x":59.3},{"x":60.2},{"x":60.5},{"x":62.6},{"x":63.0},{"x":64.2},{"x":65.0},{"x":66.6},{"x":67.4},{"x":67.7},{"x":68.8},{"x":69.7},{"x":70.1},{"x":71.1},{"x":72.0},{"x":72.3},{"x":73.5},{"x":74.3},{"x":75.8},{"x":76.7},{"x":77.0},{"x":78.3},{"x":79.1},{"x":79.4},{"x":80.6},{"x":81.4},{"x":81.7},{"x":82.8},{"x":83.6},{"x":84.0},{"x":85.0},{"x":85.8},{"x":86.1},{"x":87.2},{"x":87.9},{"x":88.2},{"x":89.2},{"x":90.0},{"x":90.3},{"x":91.3},{"x":92.0},{"x":92.4},{"x":93.3},{"x":94.0},{"x":94.4}]
},
"spacing": 16,
"resolve": {"scale": {"color": "independent"}},
"vconcat": [
{"hconcat": [
{
"width": 311, "height": 191,
"resolve": {"scale": {"x": "independent"}},
"layer": [
{
"resolve": {"axis": {"x": "independent", "y": "independent"}},
"layer": [
{"data": {"name": "pa"}, "mark": {"type": "line", "color": "#6b0d0d", "strokeWidth": 2.6, "strokeJoin": "round", "strokeCap": "round"},
 "encoding": {
 "x": {"field": "x", "type": "quantitative", "scale": {"domain": [5.85, 95], "nice": false, "zero": false}, "axis": {"orient": "bottom", "values": [10,20,30,40,50,60,70,80,90], "tickSize": -6, "tickColor": "black", "tickWidth": 1, "domain": false, "grid": false, "labelFontSize": 16, "labelColor": "black", "labelPadding": 19, "labelOverlap": false, "labelFlush": false, "minExtent": 0, "title": "2θ / degree (λ = 0.799323(2) Å)", "titleFontSize": 17.5, "titleFontWeight": "normal", "titleColor": "black", "titlePadding": 4}},
 "y": {"field": "y", "type": "quantitative", "scale": {"domain": [0, 191], "nice": false, "zero": false}, "axis": {"title": "Intensity / arb. unit", "labels": false, "ticks": false, "domain": false, "grid": false, "minExtent": 0, "titleFontSize": 19, "titleFontWeight": "normal", "titleColor": "black", "titlePadding": 5}}
 }},
{"data": {"name": "pa"}, "mark": {"type": "circle", "color": "#8e1616", "size": 15, "opacity": 1, "stroke": "#4a0505", "strokeWidth": 0.5},
 "encoding": {"x": {"field": "x", "type": "quantitative", "scale": {"domain": [5.85, 95], "nice": false, "zero": false}, "axis": {"orient": "bottom", "values": [6,8,12,14,16,18,22,24,26,28,32,34,36,38,42,44,46,48,52,54,56,58,62,64,66,68,72,74,76,78,82,84,86,88,92,94], "tickSize": -3.5, "tickColor": "black", "labels": false, "domain": false, "grid": false, "title": null, "minExtent": 0}},
 "y": {"field": "y", "type": "quantitative", "scale": {"domain": [0, 191], "nice": false, "zero": false}, "axis": null}}},
{"data": {"name": "pa"}, "mark": {"type": "line", "color": "#2e9a62", "strokeWidth": 1.5, "strokeJoin": "round"},
 "encoding": {"x": {"field": "x", "type": "quantitative", "scale": {"domain": [5.85, 95], "nice": false, "zero": false}, "axis": {"orient": "top", "values": [10,20,30,40,50,60,70,80,90], "tickSize": -6, "tickColor": "black", "labels": false, "domain": false, "grid": false, "title": null, "minExtent": 0}},
 "y": {"field": "y", "type": "quantitative", "scale": {"domain": [0, 191], "nice": false, "zero": false}, "axis": null}}},
{"data": {"name": "da"}, "mark": {"type": "line", "color": "#3a6ee8", "strokeWidth": 1.2, "strokeJoin": "round"},
 "encoding": {"x": {"field": "x", "type": "quantitative", "scale": {"domain": [5.85, 95], "nice": false, "zero": false}, "axis": {"orient": "top", "values": [6,8,12,14,16,18,22,24,26,28,32,34,36,38,42,44,46,48,52,54,56,58,62,64,66,68,72,74,76,78,82,84,86,88,92,94], "tickSize": -3.5, "tickColor": "black", "labels": false, "domain": false, "grid": false, "title": null, "minExtent": 0}},
 "y": {"field": "y", "type": "quantitative", "scale": {"domain": [0, 191], "nice": false, "zero": false}, "axis": null}}},
{"data": {"name": "tko"}, "mark": {"type": "rule", "strokeWidth": 1.2},
 "encoding": {"x": {"field": "x", "type": "quantitative", "scale": {"domain": [5.85, 95], "nice": false, "zero": false}, "axis": null}, "y": {"datum": 32.5, "axis": null}, "y2": {"datum": 36.1}, "color": {"datum": "o-Li₁₊δMn₁₋δO₂", "scale": {"domain": ["o-Li₁₊δMn₁₋δO₂", "Mn₃O₄", "LiMn₂O₄"], "range": ["#f7a23c", "#c36be6", "#5eeed4"]}, "legend": {"orient": "none", "legendX": 202.5, "legendY": 97.5, "title": null, "padding": 0, "symbolType": "M0,-1V1", "symbolSize": 81, "symbolStrokeWidth": 2, "labelFontSize": 13, "labelColor": "black", "labelOffset": 4.3, "rowPadding": 1.5, "labelLimit": 0}}}},
{"data": {"name": "tkm"}, "mark": {"type": "rule", "strokeWidth": 1.4},
 "encoding": {"x": {"field": "x", "type": "quantitative", "scale": {"domain": [5.85, 95], "nice": false, "zero": false}, "axis": null}, "y": {"datum": 27.5, "axis": null}, "y2": {"datum": 31.1}, "color": {"datum": "Mn₃O₄"}}},
{"data": {"name": "tkl"}, "mark": {"type": "rule", "strokeWidth": 1.2},
 "encoding": {"x": {"field": "x", "type": "quantitative", "scale": {"domain": [5.85, 95], "nice": false, "zero": false}, "axis": null}, "y": {"datum": 22.5, "axis": null}, "y2": {"datum": 26.1}, "color": {"datum": "LiMn₂O₄"}}},
{"data": {"name": "sa"}, "mark": {"type": "text", "text": "*", "fontSize": 13, "color": "#222"},
 "encoding": {"x": {"field": "x", "type": "quantitative", "scale": {"domain": [5.85, 95], "nice": false, "zero": false}, "axis": null}, "y": {"field": "y", "type": "quantitative", "scale": {"domain": [0, 191], "nice": false, "zero": false}, "axis": null}}},
{"data": {"values": [{}]}, "mark": {"type": "text", "text": "(a)", "fontSize": 20, "color": "black"}, "encoding": {"x": {"datum": 87.5, "axis": null}, "y": {"datum": 172, "axis": null}}},
{"data": {"values": [{}]}, "mark": {"type": "text", "text": "o-LiMnO₂", "fontSize": 16, "align": "right", "color": "black"}, "encoding": {"x": {"datum": 91.5, "axis": null}, "y": {"datum": 143, "axis": null}}}
]
},
{
"layer": [
{"data": {"name": "ia"}, "mark": {"type": "line", "color": "#6b0d0d", "strokeWidth": 2.6, "strokeJoin": "round", "strokeCap": "round"},
 "encoding": {"x": {"field": "x", "type": "quantitative", "scale": {"domain": [6.577, 18.538], "nice": false, "zero": false}, "axis": null}, "y": {"field": "y", "type": "quantitative", "scale": {"domain": [0, 191], "nice": false, "zero": false}, "axis": null}}},
{"data": {"name": "ia"}, "mark": {"type": "circle", "color": "#8e1616", "size": 15, "opacity": 1, "stroke": "#4a0505", "strokeWidth": 0.5},
 "encoding": {"x": {"field": "x", "type": "quantitative", "scale": {"domain": [6.577, 18.538], "nice": false, "zero": false}, "axis": null}, "y": {"field": "y", "type": "quantitative", "scale": {"domain": [0, 191], "nice": false, "zero": false}, "axis": null}}},
{"data": {"name": "ia"}, "mark": {"type": "line", "color": "#2e9a62", "strokeWidth": 1.5, "strokeJoin": "round"},
 "encoding": {"x": {"field": "x", "type": "quantitative", "scale": {"domain": [6.577, 18.538], "nice": false, "zero": false}, "axis": null}, "y": {"field": "y", "type": "quantitative", "scale": {"domain": [0, 191], "nice": false, "zero": false}, "axis": null}}},
{"data": {"name": "iax"}, "mark": {"type": "rule", "color": "black", "strokeWidth": 1},
 "encoding": {"x": {"field": "x", "type": "quantitative", "scale": {"domain": [6.577, 18.538], "nice": false, "zero": false}, "axis": null}, "x2": {"field": "x2"}, "y": {"datum": 89, "axis": null}}},
{"data": {"name": "imaj"}, "mark": {"type": "tick", "orient": "vertical", "size": 5, "thickness": 1, "color": "black"},
 "encoding": {"x": {"field": "x", "type": "quantitative", "scale": {"domain": [6.577, 18.538], "nice": false, "zero": false}, "axis": null}, "y": {"datum": 91.5, "axis": null}}},
{"data": {"name": "imin"}, "mark": {"type": "tick", "orient": "vertical", "size": 2.5, "thickness": 1, "color": "black"},
 "encoding": {"x": {"field": "x", "type": "quantitative", "scale": {"domain": [6.577, 18.538], "nice": false, "zero": false}, "axis": null}, "y": {"datum": 90.25, "axis": null}}},
{"data": {"name": "imaj"}, "mark": {"type": "text", "fontSize": 14, "color": "black", "baseline": "middle"},
 "encoding": {"x": {"field": "x", "type": "quantitative", "scale": {"domain": [6.577, 18.538], "nice": false, "zero": false}, "axis": null}, "y": {"datum": 78, "axis": null}, "text": {"field": "x", "type": "quantitative", "format": "d"}}},
{"data": {"values": [{"x": 12.833}]}, "mark": {"type": "tick", "orient": "vertical", "size": 7, "thickness": 1.5, "color": "#f5a142"},
 "encoding": {"x": {"field": "x", "type": "quantitative", "scale": {"domain": [6.577, 18.538], "nice": false, "zero": false}, "axis": null}, "y": {"datum": 94.5, "axis": null}}},
{"data": {"values": [{"x": 12.833, "t": "011"}]}, "mark": {"type": "text", "angle": 270, "fontSize": 12, "color": "#f5b54a", "baseline": "middle"},
 "encoding": {"x": {"field": "x", "type": "quantitative", "scale": {"domain": [6.577, 18.538], "nice": false, "zero": false}, "axis": null}, "y": {"datum": 154, "axis": null}, "text": {"field": "t"}}}
]
}
]
},
{
"width": 314, "height": 191,
"resolve": {"scale": {"x": "independent"}},
"layer": [
{
"resolve": {"axis": {"x": "independent", "y": "independent"}},
"layer": [
{"data": {"name": "pc"}, "mark": {"type": "line", "color": "#6b0d0d", "strokeWidth": 2.6, "strokeJoin": "round", "strokeCap": "round"},
 "encoding": {
 "x": {"field": "x", "type": "quantitative", "scale": {"domain": [4.8, 95.3], "nice": false, "zero": false}, "axis": {"orient": "bottom", "values": [10,20,30,40,50,60,70,80,90], "tickSize": -6, "tickColor": "black", "tickWidth": 1, "domain": false, "grid": false, "labelFontSize": 16, "labelColor": "black", "labelPadding": 19, "labelOverlap": false, "labelFlush": false, "minExtent": 0, "title": "2θ / degree (λ = 0.799670(2) Å)", "titleFontSize": 17.5, "titleFontWeight": "normal", "titleColor": "black", "titlePadding": 4}},
 "y": {"field": "y", "type": "quantitative", "scale": {"domain": [0, 191], "nice": false, "zero": false}, "axis": {"title": "Intensity / arb. unit", "labels": false, "ticks": false, "domain": false, "grid": false, "minExtent": 0, "titleFontSize": 19, "titleFontWeight": "normal", "titleColor": "black", "titlePadding": 8}}
 }},
{"data": {"name": "pc"}, "mark": {"type": "circle", "color": "#8e1616", "size": 15, "opacity": 1, "stroke": "#4a0505", "strokeWidth": 0.5},
 "encoding": {"x": {"field": "x", "type": "quantitative", "scale": {"domain": [4.8, 95.3], "nice": false, "zero": false}, "axis": {"orient": "bottom", "values": [6,8,12,14,16,18,22,24,26,28,32,34,36,38,42,44,46,48,52,54,56,58,62,64,66,68,72,74,76,78,82,84,86,88,92,94], "tickSize": -3.5, "tickColor": "black", "labels": false, "domain": false, "grid": false, "title": null, "minExtent": 0}},
 "y": {"field": "y", "type": "quantitative", "scale": {"domain": [0, 191], "nice": false, "zero": false}, "axis": null}}},
{"data": {"name": "pc"}, "mark": {"type": "line", "color": "#2e9a62", "strokeWidth": 1.5, "strokeJoin": "round"},
 "encoding": {"x": {"field": "x", "type": "quantitative", "scale": {"domain": [4.8, 95.3], "nice": false, "zero": false}, "axis": {"orient": "top", "values": [10,20,30,40,50,60,70,80,90], "tickSize": -6, "tickColor": "black", "labels": false, "domain": false, "grid": false, "title": null, "minExtent": 0}},
 "y": {"field": "y", "type": "quantitative", "scale": {"domain": [0, 191], "nice": false, "zero": false}, "axis": null}}},
{"data": {"name": "dc"}, "mark": {"type": "line", "color": "#3a6ee8", "strokeWidth": 1.2, "strokeJoin": "round"},
 "encoding": {"x": {"field": "x", "type": "quantitative", "scale": {"domain": [4.8, 95.3], "nice": false, "zero": false}, "axis": {"orient": "top", "values": [6,8,12,14,16,18,22,24,26,28,32,34,36,38,42,44,46,48,52,54,56,58,62,64,66,68,72,74,76,78,82,84,86,88,92,94], "tickSize": -3.5, "tickColor": "black", "labels": false, "domain": false, "grid": false, "title": null, "minExtent": 0}},
 "y": {"field": "y", "type": "quantitative", "scale": {"domain": [0, 191], "nice": false, "zero": false}, "axis": null}}},
{"data": {"name": "tkt"}, "mark": {"type": "rule", "strokeWidth": 1.4},
 "encoding": {"x": {"field": "x", "type": "quantitative", "scale": {"domain": [4.8, 95.3], "nice": false, "zero": false}, "axis": null}, "y": {"datum": 32.2, "axis": null}, "y2": {"datum": 35.8}, "color": {"datum": "t-Li₁₊δMn₁₋δO₂", "scale": {"domain": ["t-Li₁₊δMn₁₋δO₂", "Mn₃O₄", "LiMn₂O₄"], "range": ["#4fcf4f", "#c36be6", "#5eeed4"]}, "legend": {"orient": "none", "legendX": 211.2, "legendY": 103.7, "title": null, "padding": 0, "symbolType": "M0,-1V1", "symbolSize": 81, "symbolStrokeWidth": 2, "labelFontSize": 13, "labelColor": "black", "labelOffset": 2.3, "rowPadding": -0.5, "labelLimit": 0}}}},
{"data": {"name": "tkm"}, "mark": {"type": "rule", "strokeWidth": 1.4},
 "encoding": {"x": {"field": "x", "type": "quantitative", "scale": {"domain": [4.8, 95.3], "nice": false, "zero": false}, "axis": null}, "y": {"datum": 27.5, "axis": null}, "y2": {"datum": 31.1}, "color": {"datum": "Mn₃O₄"}}},
{"data": {"name": "tkl"}, "mark": {"type": "rule", "strokeWidth": 1.2},
 "encoding": {"x": {"field": "x", "type": "quantitative", "scale": {"domain": [4.8, 95.3], "nice": false, "zero": false}, "axis": null}, "y": {"datum": 23.2, "axis": null}, "y2": {"datum": 26.8}, "color": {"datum": "LiMn₂O₄"}}},
{"data": {"name": "sc"}, "mark": {"type": "text", "text": "*", "fontSize": 13, "color": "#222"},
 "encoding": {"x": {"field": "x", "type": "quantitative", "scale": {"domain": [4.8, 95.3], "nice": false, "zero": false}, "axis": null}, "y": {"field": "y", "type": "quantitative", "scale": {"domain": [0, 191], "nice": false, "zero": false}, "axis": null}}},
{"data": {"values": [{}]}, "mark": {"type": "text", "text": "(c)", "fontSize": 20, "color": "black"}, "encoding": {"x": {"datum": 88.0, "axis": null}, "y": {"datum": 170, "axis": null}}},
{"data": {"values": [{}]}, "mark": {"type": "text", "text": "LMO(8GPa)", "fontSize": 16, "align": "right", "color": "black"}, "encoding": {"x": {"datum": 92.3, "axis": null}, "y": {"datum": 143.3, "axis": null}}}
]
},
{
"layer": [
{"data": {"name": "ic"}, "mark": {"type": "line", "color": "#6b0d0d", "strokeWidth": 2.6, "strokeJoin": "round", "strokeCap": "round"},
 "encoding": {"x": {"field": "x", "type": "quantitative", "scale": {"domain": [6.423, 18.5], "nice": false, "zero": false}, "axis": null}, "y": {"field": "y", "type": "quantitative", "scale": {"domain": [0, 191], "nice": false, "zero": false}, "axis": null}}},
{"data": {"name": "ic"}, "mark": {"type": "circle", "color": "#8e1616", "size": 15, "opacity": 1, "stroke": "#4a0505", "strokeWidth": 0.5},
 "encoding": {"x": {"field": "x", "type": "quantitative", "scale": {"domain": [6.423, 18.5], "nice": false, "zero": false}, "axis": null}, "y": {"field": "y", "type": "quantitative", "scale": {"domain": [0, 191], "nice": false, "zero": false}, "axis": null}}},
{"data": {"name": "ic"}, "mark": {"type": "line", "color": "#2e9a62", "strokeWidth": 1.5, "strokeJoin": "round"},
 "encoding": {"x": {"field": "x", "type": "quantitative", "scale": {"domain": [6.423, 18.5], "nice": false, "zero": false}, "axis": null}, "y": {"field": "y", "type": "quantitative", "scale": {"domain": [0, 191], "nice": false, "zero": false}, "axis": null}}},
{"data": {"name": "iax"}, "mark": {"type": "rule", "color": "black", "strokeWidth": 1},
 "encoding": {"x": {"field": "x", "type": "quantitative", "scale": {"domain": [6.423, 18.5], "nice": false, "zero": false}, "axis": null}, "x2": {"field": "x2"}, "y": {"datum": 89, "axis": null}}},
{"data": {"name": "imaj"}, "mark": {"type": "tick", "orient": "vertical", "size": 5, "thickness": 1, "color": "black"},
 "encoding": {"x": {"field": "x", "type": "quantitative", "scale": {"domain": [6.423, 18.5], "nice": false, "zero": false}, "axis": null}, "y": {"datum": 91.5, "axis": null}}},
{"data": {"name": "imin"}, "mark": {"type": "tick", "orient": "vertical", "size": 2.5, "thickness": 1, "color": "black"},
 "encoding": {"x": {"field": "x", "type": "quantitative", "scale": {"domain": [6.423, 18.5], "nice": false, "zero": false}, "axis": null}, "y": {"datum": 90.25, "axis": null}}},
{"data": {"name": "imaj"}, "mark": {"type": "text", "fontSize": 14, "color": "black", "baseline": "middle"},
 "encoding": {"x": {"field": "x", "type": "quantitative", "scale": {"domain": [6.423, 18.5], "nice": false, "zero": false}, "axis": null}, "y": {"datum": 78, "axis": null}, "text": {"field": "x", "type": "quantitative", "format": "d"}}},
{"data": {"values": [{"x": 12.313}]}, "mark": {"type": "tick", "orient": "vertical", "size": 6.5, "thickness": 1.5, "color": "#4fcf4f"},
 "encoding": {"x": {"field": "x", "type": "quantitative", "scale": {"domain": [6.423, 18.5], "nice": false, "zero": false}, "axis": null}, "y": {"datum": 95, "axis": null}}},
{"data": {"values": [{"x": 12.313, "t": "101"}]}, "mark": {"type": "text", "angle": 270, "fontSize": 14, "color": "#5fdc5f", "baseline": "middle"},
 "encoding": {"x": {"field": "x", "type": "quantitative", "scale": {"domain": [6.423, 18.5], "nice": false, "zero": false}, "axis": null}, "y": {"datum": 173, "axis": null}, "text": {"field": "t"}}}
]
}
]
}
], "spacing": 42, "bounds": "flush", "resolve": {"scale": {"color": "independent"}}},
{"hconcat": [
{
"width": 311, "height": 191,
"resolve": {"scale": {"x": "independent"}},
"layer": [
{
"resolve": {"axis": {"x": "independent", "y": "independent"}},
"layer": [
{"data": {"name": "pb"}, "mark": {"type": "line", "color": "#6b0d0d", "strokeWidth": 2.6, "strokeJoin": "round", "strokeCap": "round"},
 "encoding": {
 "x": {"field": "x", "type": "quantitative", "scale": {"domain": [5.85, 95], "nice": false, "zero": false}, "axis": {"orient": "bottom", "values": [10,20,30,40,50,60,70,80,90], "tickSize": -6, "tickColor": "black", "tickWidth": 1, "domain": false, "grid": false, "labelFontSize": 16, "labelColor": "black", "labelPadding": 19, "labelOverlap": false, "labelFlush": false, "minExtent": 0, "title": "2θ / degree (λ = 0.799670(2) Å)", "titleFontSize": 17.5, "titleFontWeight": "normal", "titleColor": "black", "titlePadding": 4}},
 "y": {"field": "y", "type": "quantitative", "scale": {"domain": [0, 191], "nice": false, "zero": false}, "axis": {"title": "Intensity / arb. unit", "labels": false, "ticks": false, "domain": false, "grid": false, "minExtent": 0, "titleFontSize": 19, "titleFontWeight": "normal", "titleColor": "black", "titlePadding": 3}}
 }},
{"data": {"name": "pb"}, "mark": {"type": "circle", "color": "#8e1616", "size": 15, "opacity": 1, "stroke": "#4a0505", "strokeWidth": 0.5},
 "encoding": {"x": {"field": "x", "type": "quantitative", "scale": {"domain": [5.85, 95], "nice": false, "zero": false}, "axis": {"orient": "bottom", "values": [6,8,12,14,16,18,22,24,26,28,32,34,36,38,42,44,46,48,52,54,56,58,62,64,66,68,72,74,76,78,82,84,86,88,92,94], "tickSize": -3.5, "tickColor": "black", "labels": false, "domain": false, "grid": false, "title": null, "minExtent": 0}},
 "y": {"field": "y", "type": "quantitative", "scale": {"domain": [0, 191], "nice": false, "zero": false}, "axis": null}}},
{"data": {"name": "pb"}, "mark": {"type": "line", "color": "#2e9a62", "strokeWidth": 1.5, "strokeJoin": "round"},
 "encoding": {"x": {"field": "x", "type": "quantitative", "scale": {"domain": [5.85, 95], "nice": false, "zero": false}, "axis": {"orient": "top", "values": [10,20,30,40,50,60,70,80,90], "tickSize": -6, "tickColor": "black", "labels": false, "domain": false, "grid": false, "title": null, "minExtent": 0}},
 "y": {"field": "y", "type": "quantitative", "scale": {"domain": [0, 191], "nice": false, "zero": false}, "axis": null}}},
{"data": {"name": "db"}, "mark": {"type": "line", "color": "#3a6ee8", "strokeWidth": 1.2, "strokeJoin": "round"},
 "encoding": {"x": {"field": "x", "type": "quantitative", "scale": {"domain": [5.85, 95], "nice": false, "zero": false}, "axis": {"orient": "top", "values": [6,8,12,14,16,18,22,24,26,28,32,34,36,38,42,44,46,48,52,54,56,58,62,64,66,68,72,74,76,78,82,84,86,88,92,94], "tickSize": -3.5, "tickColor": "black", "labels": false, "domain": false, "grid": false, "title": null, "minExtent": 0}},
 "y": {"field": "y", "type": "quantitative", "scale": {"domain": [0, 191], "nice": false, "zero": false}, "axis": null}}},
{"data": {"name": "tko"}, "mark": {"type": "rule", "strokeWidth": 1.2},
 "encoding": {"x": {"field": "x", "type": "quantitative", "scale": {"domain": [5.85, 95], "nice": false, "zero": false}, "axis": null}, "y": {"datum": 31.2, "axis": null}, "y2": {"datum": 34.8}, "color": {"datum": "o-Li₁₊δMn₁₋δO₂", "scale": {"domain": ["o-Li₁₊δMn₁₋δO₂", "t-Li₁₊δMn₁₋δO₂", "Mn₃O₄", "LiMn₂O₄"], "range": ["#f7a23c", "#4fcf4f", "#c36be6", "#5eeed4"]}, "legend": {"orient": "none", "legendX": 202.5, "legendY": 89.7, "title": null, "padding": 0, "symbolType": "M0,-1V1", "symbolSize": 81, "symbolStrokeWidth": 2, "labelFontSize": 13, "labelColor": "black", "labelOffset": 4, "rowPadding": -1.5, "labelLimit": 0}}}},
{"data": {"name": "tkt"}, "mark": {"type": "rule", "strokeWidth": 1.4},
 "encoding": {"x": {"field": "x", "type": "quantitative", "scale": {"domain": [5.85, 95], "nice": false, "zero": false}, "axis": null}, "y": {"datum": 26.9, "axis": null}, "y2": {"datum": 30.5}, "color": {"datum": "t-Li₁₊δMn₁₋δO₂"}}},
{"data": {"name": "tkm"}, "mark": {"type": "rule", "strokeWidth": 1.4},
 "encoding": {"x": {"field": "x", "type": "quantitative", "scale": {"domain": [5.85, 95], "nice": false, "zero": false}, "axis": null}, "y": {"datum": 22.2, "axis": null}, "y2": {"datum": 25.8}, "color": {"datum": "Mn₃O₄"}}},
{"data": {"name": "tkl"}, "mark": {"type": "rule", "strokeWidth": 1.2},
 "encoding": {"x": {"field": "x", "type": "quantitative", "scale": {"domain": [5.85, 95], "nice": false, "zero": false}, "axis": null}, "y": {"datum": 17.9, "axis": null}, "y2": {"datum": 21.5}, "color": {"datum": "LiMn₂O₄"}}},
{"data": {"name": "sb"}, "mark": {"type": "text", "text": "*", "fontSize": 13, "color": "#222"},
 "encoding": {"x": {"field": "x", "type": "quantitative", "scale": {"domain": [5.85, 95], "nice": false, "zero": false}, "axis": null}, "y": {"field": "y", "type": "quantitative", "scale": {"domain": [0, 191], "nice": false, "zero": false}, "axis": null}}},
{"data": {"values": [{}]}, "mark": {"type": "text", "text": "(b)", "fontSize": 20, "color": "black"}, "encoding": {"x": {"datum": 87.65, "axis": null}, "y": {"datum": 171.3, "axis": null}}},
{"data": {"values": [{}]}, "mark": {"type": "text", "text": "LMO(5GPa)", "fontSize": 16, "align": "right", "color": "black"}, "encoding": {"x": {"datum": 92.1, "axis": null}, "y": {"datum": 143, "axis": null}}}
]
},
{
"layer": [
{"data": {"name": "ib"}, "mark": {"type": "line", "color": "#6b0d0d", "strokeWidth": 2.6, "strokeJoin": "round", "strokeCap": "round"},
 "encoding": {"x": {"field": "x", "type": "quantitative", "scale": {"domain": [6.577, 18.538], "nice": false, "zero": false}, "axis": null}, "y": {"field": "y", "type": "quantitative", "scale": {"domain": [0, 191], "nice": false, "zero": false}, "axis": null}}},
{"data": {"name": "ib"}, "mark": {"type": "circle", "color": "#8e1616", "size": 15, "opacity": 1, "stroke": "#4a0505", "strokeWidth": 0.5},
 "encoding": {"x": {"field": "x", "type": "quantitative", "scale": {"domain": [6.577, 18.538], "nice": false, "zero": false}, "axis": null}, "y": {"field": "y", "type": "quantitative", "scale": {"domain": [0, 191], "nice": false, "zero": false}, "axis": null}}},
{"data": {"name": "ib"}, "mark": {"type": "line", "color": "#2e9a62", "strokeWidth": 1.5, "strokeJoin": "round"},
 "encoding": {"x": {"field": "x", "type": "quantitative", "scale": {"domain": [6.577, 18.538], "nice": false, "zero": false}, "axis": null}, "y": {"field": "y", "type": "quantitative", "scale": {"domain": [0, 191], "nice": false, "zero": false}, "axis": null}}},
{"data": {"name": "iax"}, "mark": {"type": "rule", "color": "black", "strokeWidth": 1},
 "encoding": {"x": {"field": "x", "type": "quantitative", "scale": {"domain": [6.577, 18.538], "nice": false, "zero": false}, "axis": null}, "x2": {"field": "x2"}, "y": {"datum": 88, "axis": null}}},
{"data": {"name": "imaj"}, "mark": {"type": "tick", "orient": "vertical", "size": 5, "thickness": 1, "color": "black"},
 "encoding": {"x": {"field": "x", "type": "quantitative", "scale": {"domain": [6.577, 18.538], "nice": false, "zero": false}, "axis": null}, "y": {"datum": 90.5, "axis": null}}},
{"data": {"name": "imin"}, "mark": {"type": "tick", "orient": "vertical", "size": 2.5, "thickness": 1, "color": "black"},
 "encoding": {"x": {"field": "x", "type": "quantitative", "scale": {"domain": [6.577, 18.538], "nice": false, "zero": false}, "axis": null}, "y": {"datum": 89.25, "axis": null}}},
{"data": {"name": "imaj"}, "mark": {"type": "text", "fontSize": 14, "color": "black", "baseline": "middle"},
 "encoding": {"x": {"field": "x", "type": "quantitative", "scale": {"domain": [6.577, 18.538], "nice": false, "zero": false}, "axis": null}, "y": {"datum": 77, "axis": null}, "text": {"field": "x", "type": "quantitative", "format": "d"}}},
{"data": {"values": [{"x": 12.3}]}, "mark": {"type": "tick", "orient": "vertical", "size": 7, "thickness": 1.5, "color": "#3fbf3f"},
 "encoding": {"x": {"field": "x", "type": "quantitative", "scale": {"domain": [6.577, 18.538], "nice": false, "zero": false}, "axis": null}, "y": {"datum": 96.5, "axis": null}}},
{"data": {"values": [{"x": 12.85}]}, "mark": {"type": "tick", "orient": "vertical", "size": 7, "thickness": 1.5, "color": "#f5a142"},
 "encoding": {"x": {"field": "x", "type": "quantitative", "scale": {"domain": [6.577, 18.538], "nice": false, "zero": false}, "axis": null}, "y": {"datum": 96.5, "axis": null}}},
{"data": {"values": [{"x": 12.33, "t": "101"}]}, "mark": {"type": "text", "angle": 270, "fontSize": 12, "color": "#5fdc5f", "baseline": "middle"},
 "encoding": {"x": {"field": "x", "type": "quantitative", "scale": {"domain": [6.577, 18.538], "nice": false, "zero": false}, "axis": null}, "y": {"datum": 131, "axis": null}, "text": {"field": "t"}}},
{"data": {"values": [{"x": 12.87, "t": "011"}]}, "mark": {"type": "text", "angle": 270, "fontSize": 12, "color": "#f5b54a", "baseline": "middle"},
 "encoding": {"x": {"field": "x", "type": "quantitative", "scale": {"domain": [6.577, 18.538], "nice": false, "zero": false}, "axis": null}, "y": {"datum": 127, "axis": null}, "text": {"field": "t"}}}
]
}
]
},
{
"width": 314, "height": 191,
"resolve": {"scale": {"x": "independent"}},
"layer": [
{
"resolve": {"axis": {"x": "independent", "y": "independent"}},
"layer": [
{"data": {"name": "pd"}, "mark": {"type": "line", "color": "#6b0d0d", "strokeWidth": 2.6, "strokeJoin": "round", "strokeCap": "round"},
 "encoding": {
 "x": {"field": "x", "type": "quantitative", "scale": {"domain": [4.8, 95.3], "nice": false, "zero": false}, "axis": {"orient": "bottom", "values": [10,20,30,40,50,60,70,80,90], "tickSize": -6, "tickColor": "black", "tickWidth": 1, "domain": false, "grid": false, "labelFontSize": 16, "labelColor": "black", "labelPadding": 19, "labelOverlap": false, "labelFlush": false, "minExtent": 0, "title": "2θ / degree (λ = 0.799323(2) Å)", "titleFontSize": 17.5, "titleFontWeight": "normal", "titleColor": "black", "titlePadding": 4}},
 "y": {"field": "y", "type": "quantitative", "scale": {"domain": [0, 191], "nice": false, "zero": false}, "axis": {"title": "Intensity / arb. unit", "labels": false, "ticks": false, "domain": false, "grid": false, "minExtent": 0, "titleFontSize": 19, "titleFontWeight": "normal", "titleColor": "black", "titlePadding": 8}}
 }},
{"data": {"name": "pd"}, "mark": {"type": "circle", "color": "#8e1616", "size": 15, "opacity": 1, "stroke": "#4a0505", "strokeWidth": 0.5},
 "encoding": {"x": {"field": "x", "type": "quantitative", "scale": {"domain": [4.8, 95.3], "nice": false, "zero": false}, "axis": {"orient": "bottom", "values": [6,8,12,14,16,18,22,24,26,28,32,34,36,38,42,44,46,48,52,54,56,58,62,64,66,68,72,74,76,78,82,84,86,88,92,94], "tickSize": -3.5, "tickColor": "black", "labels": false, "domain": false, "grid": false, "title": null, "minExtent": 0}},
 "y": {"field": "y", "type": "quantitative", "scale": {"domain": [0, 191], "nice": false, "zero": false}, "axis": null}}},
{"data": {"name": "pd"}, "mark": {"type": "line", "color": "#2e9a62", "strokeWidth": 1.5, "strokeJoin": "round"},
 "encoding": {"x": {"field": "x", "type": "quantitative", "scale": {"domain": [4.8, 95.3], "nice": false, "zero": false}, "axis": {"orient": "top", "values": [10,20,30,40,50,60,70,80,90], "tickSize": -6, "tickColor": "black", "labels": false, "domain": false, "grid": false, "title": null, "minExtent": 0}},
 "y": {"field": "y", "type": "quantitative", "scale": {"domain": [0, 191], "nice": false, "zero": false}, "axis": null}}},
{"data": {"name": "dd"}, "mark": {"type": "line", "color": "#3a6ee8", "strokeWidth": 1.2, "strokeJoin": "round"},
 "encoding": {"x": {"field": "x", "type": "quantitative", "scale": {"domain": [4.8, 95.3], "nice": false, "zero": false}, "axis": {"orient": "top", "values": [6,8,12,14,16,18,22,24,26,28,32,34,36,38,42,44,46,48,52,54,56,58,62,64,66,68,72,74,76,78,82,84,86,88,92,94], "tickSize": -3.5, "tickColor": "black", "labels": false, "domain": false, "grid": false, "title": null, "minExtent": 0}},
 "y": {"field": "y", "type": "quantitative", "scale": {"domain": [0, 191], "nice": false, "zero": false}, "axis": null}}},
{"data": {"name": "tkt"}, "mark": {"type": "rule", "strokeWidth": 1.4},
 "encoding": {"x": {"field": "x", "type": "quantitative", "scale": {"domain": [4.8, 95.3], "nice": false, "zero": false}, "axis": null}, "y": {"datum": 31.2, "axis": null}, "y2": {"datum": 34.8}, "color": {"datum": "t-Li₁₊δMn₁₋δO₂", "scale": {"domain": ["t-Li₁₊δMn₁₋δO₂", "Mn₃O₄", "LiMn₂O₄"], "range": ["#4fcf4f", "#c36be6", "#5eeed4"]}, "legend": {"orient": "none", "legendX": 211.8, "legendY": 102.7, "title": null, "padding": 0, "symbolType": "M0,-1V1", "symbolSize": 81, "symbolStrokeWidth": 2, "labelFontSize": 13, "labelColor": "black", "labelOffset": 2, "rowPadding": -0.5, "labelLimit": 0}}}},
{"data": {"name": "tkm"}, "mark": {"type": "rule", "strokeWidth": 1.4},
 "encoding": {"x": {"field": "x", "type": "quantitative", "scale": {"domain": [4.8, 95.3], "nice": false, "zero": false}, "axis": null}, "y": {"datum": 26.9, "axis": null}, "y2": {"datum": 30.5}, "color": {"datum": "Mn₃O₄"}}},
{"data": {"name": "tkl"}, "mark": {"type": "rule", "strokeWidth": 1.2},
 "encoding": {"x": {"field": "x", "type": "quantitative", "scale": {"domain": [4.8, 95.3], "nice": false, "zero": false}, "axis": null}, "y": {"datum": 22.2, "axis": null}, "y2": {"datum": 25.8}, "color": {"datum": "LiMn₂O₄"}}},
{"data": {"name": "sd"}, "mark": {"type": "text", "text": "*", "fontSize": 13, "color": "#222"},
 "encoding": {"x": {"field": "x", "type": "quantitative", "scale": {"domain": [4.8, 95.3], "nice": false, "zero": false}, "axis": null}, "y": {"field": "y", "type": "quantitative", "scale": {"domain": [0, 191], "nice": false, "zero": false}, "axis": null}}},
{"data": {"values": [{}]}, "mark": {"type": "text", "text": "(d)", "fontSize": 20, "color": "black"}, "encoding": {"x": {"datum": 88.2, "axis": null}, "y": {"datum": 169.7, "axis": null}}},
{"data": {"values": [{}]}, "mark": {"type": "text", "text": "LMO(12GPa)", "fontSize": 16, "align": "right", "color": "black"}, "encoding": {"x": {"datum": 92.8, "axis": null}, "y": {"datum": 143, "axis": null}}}
]
},
{
"layer": [
{"data": {"name": "id"}, "mark": {"type": "line", "color": "#6b0d0d", "strokeWidth": 2.6, "strokeJoin": "round", "strokeCap": "round"},
 "encoding": {"x": {"field": "x", "type": "quantitative", "scale": {"domain": [6.423, 18.5], "nice": false, "zero": false}, "axis": null}, "y": {"field": "y", "type": "quantitative", "scale": {"domain": [0, 191], "nice": false, "zero": false}, "axis": null}}},
{"data": {"name": "id"}, "mark": {"type": "circle", "color": "#8e1616", "size": 15, "opacity": 1, "stroke": "#4a0505", "strokeWidth": 0.5},
 "encoding": {"x": {"field": "x", "type": "quantitative", "scale": {"domain": [6.423, 18.5], "nice": false, "zero": false}, "axis": null}, "y": {"field": "y", "type": "quantitative", "scale": {"domain": [0, 191], "nice": false, "zero": false}, "axis": null}}},
{"data": {"name": "id"}, "mark": {"type": "line", "color": "#2e9a62", "strokeWidth": 1.5, "strokeJoin": "round"},
 "encoding": {"x": {"field": "x", "type": "quantitative", "scale": {"domain": [6.423, 18.5], "nice": false, "zero": false}, "axis": null}, "y": {"field": "y", "type": "quantitative", "scale": {"domain": [0, 191], "nice": false, "zero": false}, "axis": null}}},
{"data": {"name": "iax"}, "mark": {"type": "rule", "color": "black", "strokeWidth": 1},
 "encoding": {"x": {"field": "x", "type": "quantitative", "scale": {"domain": [6.423, 18.5], "nice": false, "zero": false}, "axis": null}, "x2": {"field": "x2"}, "y": {"datum": 92, "axis": null}}},
{"data": {"name": "imaj"}, "mark": {"type": "tick", "orient": "vertical", "size": 5, "thickness": 1, "color": "black"},
 "encoding": {"x": {"field": "x", "type": "quantitative", "scale": {"domain": [6.423, 18.5], "nice": false, "zero": false}, "axis": null}, "y": {"datum": 94.5, "axis": null}}},
{"data": {"name": "imin"}, "mark": {"type": "tick", "orient": "vertical", "size": 2.5, "thickness": 1, "color": "black"},
 "encoding": {"x": {"field": "x", "type": "quantitative", "scale": {"domain": [6.423, 18.5], "nice": false, "zero": false}, "axis": null}, "y": {"datum": 93.25, "axis": null}}},
{"data": {"name": "imaj"}, "mark": {"type": "text", "fontSize": 14, "color": "black", "baseline": "middle"},
 "encoding": {"x": {"field": "x", "type": "quantitative", "scale": {"domain": [6.423, 18.5], "nice": false, "zero": false}, "axis": null}, "y": {"datum": 77, "axis": null}, "text": {"field": "x", "type": "quantitative", "format": "d"}}},
{"data": {"values": [{"x": 12.313}]}, "mark": {"type": "tick", "orient": "vertical", "size": 6, "thickness": 1.5, "color": "#4fcf4f"},
 "encoding": {"x": {"field": "x", "type": "quantitative", "scale": {"domain": [6.423, 18.5], "nice": false, "zero": false}, "axis": null}, "y": {"datum": 94.5, "axis": null}}},
{"data": {"values": [{"x": 12.313, "t": "101"}]}, "mark": {"type": "text", "angle": 270, "fontSize": 12, "color": "#5fdc5f", "baseline": "middle"},
 "encoding": {"x": {"field": "x", "type": "quantitative", "scale": {"domain": [6.423, 18.5], "nice": false, "zero": false}, "axis": null}, "y": {"datum": 171, "axis": null}, "text": {"field": "t"}}}
]
}
]
}
], "spacing": 42, "bounds": "flush", "resolve": {"scale": {"color": "independent"}}}
]
}
